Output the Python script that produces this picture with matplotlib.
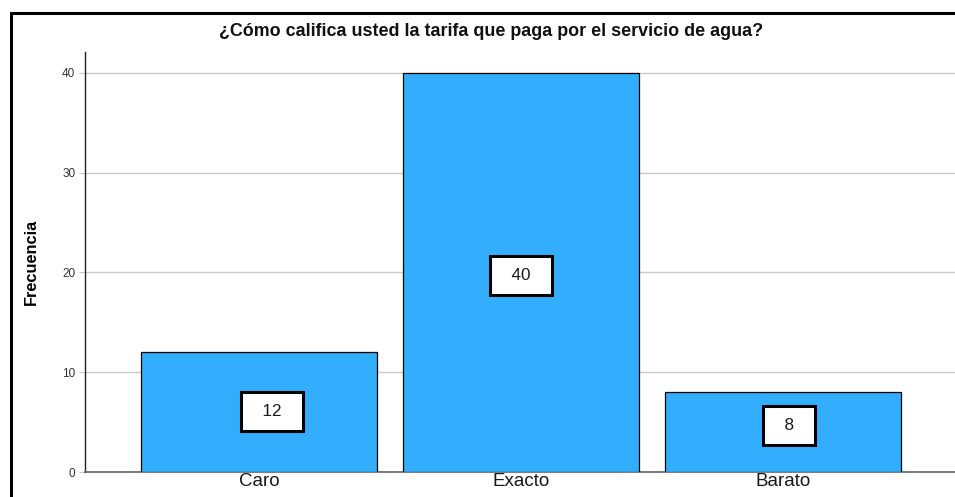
import matplotlib
matplotlib.use('Agg')
import matplotlib.pyplot as plt
from matplotlib.patches import Rectangle

# frequency table for the water tariff question
categorias = ['Caro', 'Exacto', 'Barato']
frecuencias = [12, 40, 8]
titulo = '¿Cómo califica usted la tarifa que paga por el servicio de agua?'

plt.rcParams['font.family'] = ['Liberation Sans', 'DejaVu Sans']

fig = plt.figure(figsize=(9.55, 4.97), dpi=100)
ax = fig.add_axes([0.089, 0.0503, 0.911, 0.8451])

# frame around the whole chart (open on the right and bottom)
fig.patches.append(Rectangle((11 / 955, -0.1), 1.2, 1 - 13 / 497 + 0.1,
                             transform=fig.transFigure, fill=False,
                             edgecolor='black', linewidth=2.2, zorder=10))

x = range(len(categorias))
ax.bar(x, frecuencias, width=0.9, color='#33aeff', edgecolor='black',
       linewidth=0.9, zorder=3)

ax.set_xlim(-0.664, 2.656)
ax.set_ylim(0, 42.1)
ax.set_yticks([0, 10, 20, 30, 40])
ax.yaxis.grid(True, color='#c8c8c8', linewidth=1.0, zorder=0)
ax.set_axisbelow(True)

ax.set_xticks(list(x))
ax.set_xticklabels(categorias, fontsize=13.5, color='#1a1a1a')
ax.tick_params(axis='x', length=0, pad=0.5)
ax.tick_params(axis='y', labelsize=8.5, colors='#bbbbbb', length=4,
               width=0.6, pad=3, labelcolor='#333333')

for s in ['top', 'right']:
    ax.spines[s].set_visible(False)
ax.spines['left'].set_color('#222222')
ax.spines['left'].set_linewidth(1.0)
ax.spines['bottom'].set_color('#666666')
ax.spines['bottom'].set_linewidth(1.2)

# value boxes in the middle of each bar
desplaz = [(13, 1), (0, -3), (6, 7)]
for i, v in enumerate(frecuencias):
    ax.annotate('  %d  ' % v, xy=(i, v / 2), xytext=desplaz[i],
                textcoords='offset pixels', ha='center', va='center',
                fontsize=12.3, color='#1a1a1a', zorder=5,
                bbox=dict(boxstyle='square,pad=0.7', facecolor='white',
                          edgecolor='black', linewidth=2.2))

ax.set_ylabel('Frecuencia', fontsize=11.8, fontweight='bold')
ax.yaxis.set_label_coords(-(85 - 39) / 870, 0.5)
fig.text(491 / 955, 1 - 31 / 497, titulo, ha='center', va='center',
         fontsize=12.9, fontweight='bold', color='#111111')

fig.savefig('out.png', dpi=100)
